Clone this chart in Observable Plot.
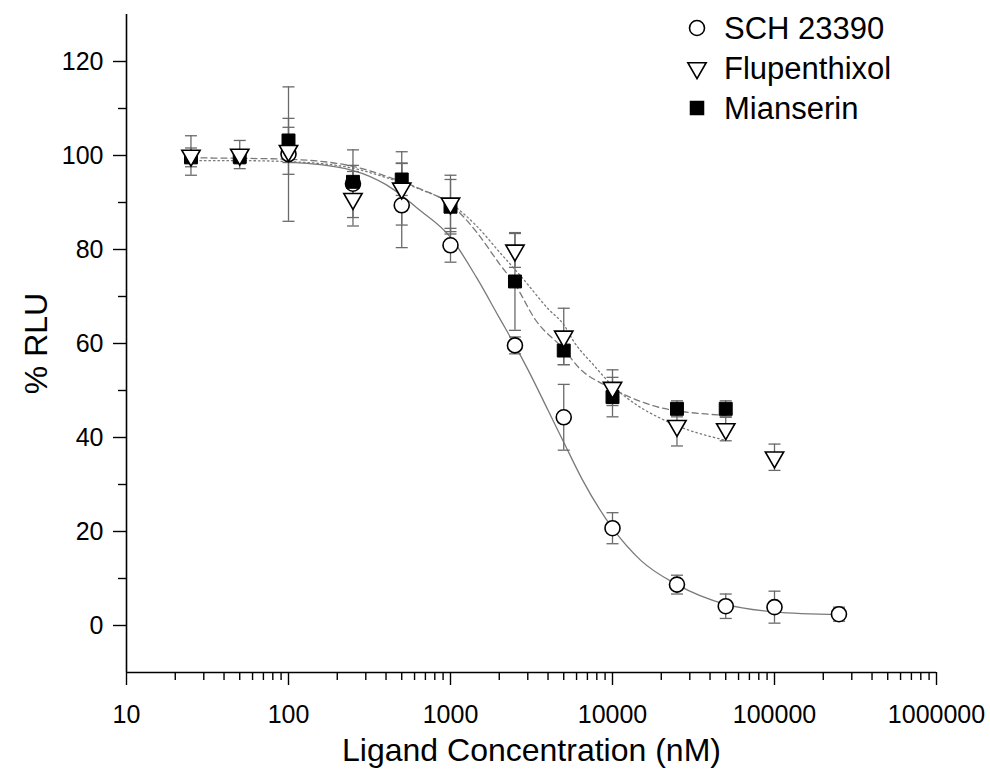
<!DOCTYPE html>
<html><head><meta charset="utf-8">
<script src="https://cdn.jsdelivr.net/npm/d3@7"></script>
<script src="https://cdn.jsdelivr.net/npm/@observablehq/plot@0.6"></script>
<style>
body{margin:0;background:#fff;}
#wrap{position:relative;width:990px;height:776px;font-family:"Liberation Sans",Arial,sans-serif;}
#legend{position:absolute;left:680px;top:4px;}
svg g[aria-label$="tick label"] text{font-size:25px !important;}
svg g[aria-label="x-axis label"] text, svg g[aria-label="y-axis label"] text{font-size:32px !important;}
</style>
</head><body>
<div id="wrap"><div id="chart"></div><div id="legend"></div></div>
<script>
// ---- data ----
const seriesNames = ["SCH 23390", "Flupenthixol", "Mianserin"];

const schConc = [100, 250, 500, 1000, 2500, 5000, 10000, 25000, 50000, 100000, 250000];
const schMean = [100.3, 94.0, 89.4, 80.9, 59.6, 44.3, 20.7, 8.7, 4.1, 3.9, 2.4];
const schErr  = [14.3, 7.2, 9.0, 3.6, 1.8, 7.0, 3.3, 2.0, 2.6, 3.4, 1.5];

const fluConc = [25, 50, 100, 250, 500, 1000, 2500, 5000, 10000, 25000, 50000, 100000];
const fluMean = [100.0, 100.2, 101.0, 90.8, 93.0, 89.8, 79.8, 61.5, 50.6, 42.5, 41.8, 35.8];
const fluErr  = [4.2, 3.0, 5.0, 5.8, 7.8, 6.0, 3.6, 6.0, 3.8, 4.3, 2.5, 2.8];

const miaConc = [25, 50, 100, 250, 500, 1000, 2500, 5000, 10000, 25000, 50000];
const miaMean = [99.6, 99.7, 103.2, 94.4, 94.9, 89.1, 73.2, 58.5, 48.6, 46.1, 46.1];
const miaErr  = [2.0, 1.5, 4.7, 3.5, 3.4, 5.8, 10.4, 3.0, 4.2, 1.7, 1.7];

// fitted curves
const schFitConc = [100, 250, 400, 650, 1000, 1450, 2000, 2500, 3000, 4000, 5000, 6500, 10000, 15000, 25000, 50000, 100000, 250000];
const schFitVal  = [98.6, 96.8, 93.8, 88.3, 82.6, 74.0, 65.5, 59.6, 54.5, 45.8, 39.0, 31.1, 20.7, 13.8, 8.7, 4.5, 2.9, 2.3];

const fluFitConc = [25, 50, 100, 250, 400, 650, 1000, 1450, 2000, 2800, 4000, 5000, 5800, 7700, 10000, 14000, 20000, 25000, 50000];
const fluFitVal  = [98.9, 98.9, 98.7, 97.3, 95.3, 92.8, 89.8, 85.0, 79.5, 73.8, 67.4, 64.0, 60.3, 55.3, 51.0, 47.0, 44.0, 42.5, 39.4];

const miaFitConc = [25, 50, 100, 250, 400, 650, 1000, 1450, 2000, 2500, 3350, 5000, 6300, 8800, 11200, 20000, 25000, 50000];
const miaFitVal  = [99.5, 99.4, 99.2, 97.7, 95.6, 92.9, 89.6, 83.7, 77.0, 72.6, 65.0, 58.8, 54.6, 51.3, 49.5, 46.3, 45.7, 44.7];

const xTickValues = [10, 100, 1000, 10000, 100000, 1000000];
const xTickLabels = ["10", "100", "1000", "10000", "100000", "1000000"];
const yTickValues = [0, 20, 40, 60, 80, 100, 120];
const yMinorValues = [10, 30, 50, 70, 90, 110];
const xMinorMultipliers = [2, 3, 4, 5, 6, 7, 8, 9];

// ---- build tables ----
const pts = (c, m, e) => c.map((v, i) => ({c: v, m: m[i], e: e[i]}));
const fit = (c, v) => c.map((x, i) => ({c: x, v: v[i]}));
const sch = pts(schConc, schMean, schErr);
const flu = pts(fluConc, fluMean, fluErr);
const mia = pts(miaConc, miaMean, miaErr);
const allPts = [...sch, ...flu, ...mia];
const xMinor = xTickValues.slice(0, -1).flatMap(d => xMinorMultipliers.map(k => k * d));

const cap = {draw(ctx, size) { const w = Math.sqrt(size / Math.PI); ctx.moveTo(-w, 0); ctx.lineTo(w, 0); }};
const barColor = "#6a6a6a";
const fitColor = "#7a7a7a";

const chart = Plot.plot({
  width: 990, height: 776,
  marginLeft: 126, marginRight: 54, marginTop: 14, marginBottom: 104,
  style: {fontFamily: "Liberation Sans, Arial, sans-serif", fontSize: "25px", color: "black", background: "white"},
  x: {type: "log", domain: [10, 1000000]},
  y: {domain: [-10, 130]},
  marks: [
    Plot.axisX({ticks: xTickValues, tickSize: 13, tickPadding: 20, strokeWidth: 1.4, fontSize: 25,
      tickFormat: d => xTickLabels[xTickValues.indexOf(d)],
      label: "Ligand Concentration (nM)", labelAnchor: "center", labelOffset: 88, labelArrow: false}),
    Plot.axisX({ticks: xMinor, tickSize: 8, strokeWidth: 1.4, tickFormat: () => "", label: null}),
    Plot.axisY({ticks: yTickValues, tickSize: 13, tickPadding: 10, strokeWidth: 1.4, fontSize: 25,
      tickFormat: d => String(d),
      label: "% RLU", labelAnchor: "center", labelOffset: 102, labelArrow: false}),
    Plot.axisY({ticks: yMinorValues, tickSize: 8, strokeWidth: 1.4, tickFormat: () => "", label: null}),
    Plot.ruleX([10], {stroke: "black", strokeWidth: 1.6}),
    Plot.ruleY([-10], {stroke: "black", strokeWidth: 1.6}),
    Plot.line(fit(schFitConc, schFitVal), {x: "c", y: "v", curve: "monotone-x", stroke: fitColor, strokeWidth: 1.3}),
    Plot.line(fit(miaFitConc, miaFitVal), {x: "c", y: "v", curve: "monotone-x", stroke: fitColor, strokeWidth: 1.3, strokeDasharray: "6,4"}),
    Plot.line(fit(fluFitConc, fluFitVal), {x: "c", y: "v", curve: "monotone-x", stroke: fitColor, strokeWidth: 1.3, strokeDasharray: "1.5,3"}),
    Plot.ruleX(allPts, {x: "c", y1: d => d.m - d.e, y2: d => d.m + d.e, stroke: barColor, strokeWidth: 1.3}),
    Plot.dot(allPts, {x: "c", y: d => d.m + d.e, symbol: cap, r: 6, fill: "none", stroke: barColor, strokeWidth: 1.3}),
    Plot.dot(allPts, {x: "c", y: d => d.m - d.e, symbol: cap, r: 6, fill: "none", stroke: barColor, strokeWidth: 1.3}),
    Plot.dot(sch, {x: "c", y: "m", symbol: "circle", r: 7.5, fill: "white", stroke: "black", strokeWidth: 1.6}),
    Plot.dot(mia, {x: "c", y: "m", symbol: "square", r: 7.3, fill: "black", stroke: "black", strokeWidth: 1}),
    Plot.dot(flu, {x: "c", y: "m", symbol: "triangle", rotate: 180, r: 6.8, fill: "white", stroke: "black", strokeWidth: 1.6})
  ]
});
document.getElementById("chart").append(chart);

// ---- legend ----
const lg = d3.select("#legend").append("svg").attr("width", 270).attr("height", 130)
  .style("font-family", "Liberation Sans, Arial, sans-serif");
const symGen = [d3.symbol(d3.symbolCircle, Math.PI * 7.5 * 7.5), d3.symbol(d3.symbolTriangle, Math.PI * 6.8 * 6.8), d3.symbol(d3.symbolSquare, Math.PI * 7.3 * 7.3)];
const symFill = ["white", "white", "black"];
const symRot = [0, 180, 0];
seriesNames.forEach((name, i) => {
  const cy = 24 + i * 40;
  lg.append("path").attr("d", symGen[i]()).attr("transform", `translate(17,${cy}) rotate(${symRot[i]})`)
    .attr("fill", symFill[i]).attr("stroke", "black").attr("stroke-width", 1.6);
  lg.append("text").attr("x", 44).attr("y", cy).attr("dy", "0.36em").attr("font-size", 31).text(name);
});
</script>
</body></html>
